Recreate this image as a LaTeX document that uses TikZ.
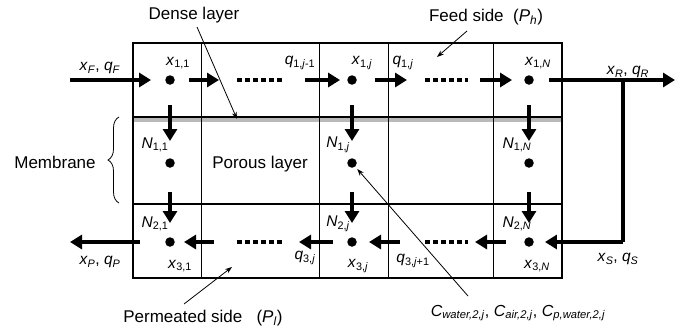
\documentclass[tikz,border=0pt]{standalone}
\usepackage{fontspec}
\setmainfont{Liberation Sans}
\usetikzlibrary{positioning,arrows.meta,decorations.pathreplacing}
\newcommand{\vr}[2]{\textit{#1}\textsubscript{\textit{#2}}}

\begin{document}
\begin{tikzpicture}[
x=1pt, y=-1pt,
font=\fontsize{15.5}{18}\selectfont,
cell/.style={draw, line width=0.8pt},
dot/.style={circle, fill, inner sep=0pt, minimum size=9.5pt},
flow/.style={-{Triangle[length=12pt, width=14pt]}, line width=4pt},
dotline/.style={line width=4pt, dash pattern=on 4.5pt off 3.5pt},
pointer/.style={-{Stealth[length=7pt, width=5pt]}, line width=0.8pt},
lbl/.style={inner sep=1pt},
word/.style={inner sep=1pt, font=\fontsize{17}{20}\selectfont}
]
\useasboundingbox (0,0) rectangle (684,333);
% module frame
\fill[gray!55] (133,118) rectangle (562,122);
\draw[cell] (201,43) -- (201,278);
\draw[cell] (319,43) -- (319,278);
\draw[cell] (388,43) -- (388,278);
\draw[cell] (493,43) -- (493,278);
\draw[line width=2.2pt] (133,117) -- (562,117);
\draw[line width=1.8pt] (133,204) -- (562,204);
\draw[line width=2.2pt] (133,43) rectangle (562,278);
% grid points
\foreach \c/\xx in {1/170, j/352, N/529} {
  \node[dot] (a\c) at (\xx,80) {};
  \node[dot] (b\c) at (\xx,163) {};
  \node[dot] (c\c) at (\xx,242) {};
  \draw[flow] (\xx,105) coordinate (ta\c) -- (\xx,141) coordinate (ha\c);
  \draw[flow] (\xx,192) coordinate (tb\c) -- (\xx,223) coordinate (hb\c);
}
% feed side
\coordinate (fin) at (70,80);
\coordinate (rout) at (675,80);
\coordinate (split) at (623,80);
\coordinate (bend) at (623,242);
\coordinate (pout) at (70,242);
\draw[flow, shorten >=14pt] (fin) -- (a1);
\draw[flow, shorten <=14pt] (a1) -- (219,80);
\draw[dotline] (237,80) coordinate (da1) -- (283,80) coordinate (da2);
\draw[flow, shorten >=7pt] (305,80) -- (aj);
\draw[flow, shorten <=18pt] (aj) -- (407,80);
\draw[dotline] (425,80) coordinate (db1) -- (468,80) coordinate (db2);
\draw[flow, shorten >=12pt] (480,80) -- (aN);
\draw[flow, shorten <=15pt] (aN) -- (rout);
\draw[line width=4pt] (split) -- (bend);
\draw[flow, shorten >=11pt] (bend) -- (cN);
% permeate side
\draw[flow] (506,242) -- (475,242);
\draw[dotline] (425,242) -- (468,242);
\draw[flow] (400,242) -- (369,242);
\draw[flow] (333,242) -- (299,242);
\draw[dotline] (237,242) -- (283,242);
\draw[flow] (214,242) -- (184,242);
\draw[flow, shorten <=25pt] (c1) -- (pout);
% labels
\node[lbl] (xF) at (100,68) {\vr{x}{F}, \vr{q}{F}};
\node[lbl] at (178,63) {\textit{x}\textsubscript{1,1}};
\node[lbl] at (300,63) {\textit{q}\textsubscript{1,\textit{j}-1}};
\node[lbl] at (362,63) {\textit{x}\textsubscript{1,\textit{j}}};
\node[lbl] at (403,63) {\textit{q}\textsubscript{1,\textit{j}}};
\node[lbl] at (538,63) {\textit{x}\textsubscript{1,\textit{N}}};
\node[lbl] (xR) at (628,72) {\vr{x}{R}, \vr{q}{R}};
\node[lbl] at (155,145) {\textit{N}\textsubscript{1,1}};
\node[lbl] at (338,145) {\textit{N}\textsubscript{1,\textit{j}}};
\node[lbl] at (517,145) {\textit{N}\textsubscript{1,\textit{N}}};
\node[lbl] at (155,224) {\textit{N}\textsubscript{2,1}};
\node[lbl] at (338,224) {\textit{N}\textsubscript{2,\textit{j}}};
\node[lbl] at (517,224) {\textit{N}\textsubscript{2,\textit{N}}};
\node[lbl] (xP) at (100,262) {\vr{x}{P}, \vr{q}{P}};
\node[lbl] at (180,266) {\textit{x}\textsubscript{3,1}};
\node[lbl] at (305,258) {\textit{q}\textsubscript{3,\textit{j}}};
\node[lbl] at (358,266) {\textit{x}\textsubscript{3,\textit{j}}};
\node[lbl] at (413,261) {\textit{q}\textsubscript{3,\textit{j}+1}};
\node[lbl] at (537,266) {\textit{x}\textsubscript{3,\textit{N}}};
\node[lbl] (xS) at (618,259) {\vr{x}{S}, \vr{q}{S}};
\node[word] at (260,164) {Porous layer};
% callouts
\node[word] (dense) at (194,15) {Dense layer};
\coordinate (densept) at (237,119);
\draw[pointer] (197,27) -- (densept);
\node[word] (feed) at (486,17) {Feed side~~(\textit{P}\textsubscript{\textit{h}})};
\coordinate (feedpt) at (437,57);
\draw[pointer] (467,31) -- (feedpt);
\node[word] (perm) at (203,318) {Permeated side~~~(\textit{P}\textsubscript{\textit{l}})};
\coordinate (permpt) at (232,267);
\draw[pointer] (184,304) -- (permpt);
\node[lbl, font=\fontsize{16}{19}\selectfont] (conc) at (518,313) {\vr{C}{water,2,j}, \vr{C}{air,2,j}, \vr{C}{p,water,2,j}};
\draw[pointer, shorten >=3pt] (468,296) -- (bj);
\node[word] (memb) at (55,162) {Membrane};
\draw[line width=0.8pt, decorate, decoration={brace, amplitude=11pt}] (119,203) -- (119,117);
\end{tikzpicture}
\end{document}
